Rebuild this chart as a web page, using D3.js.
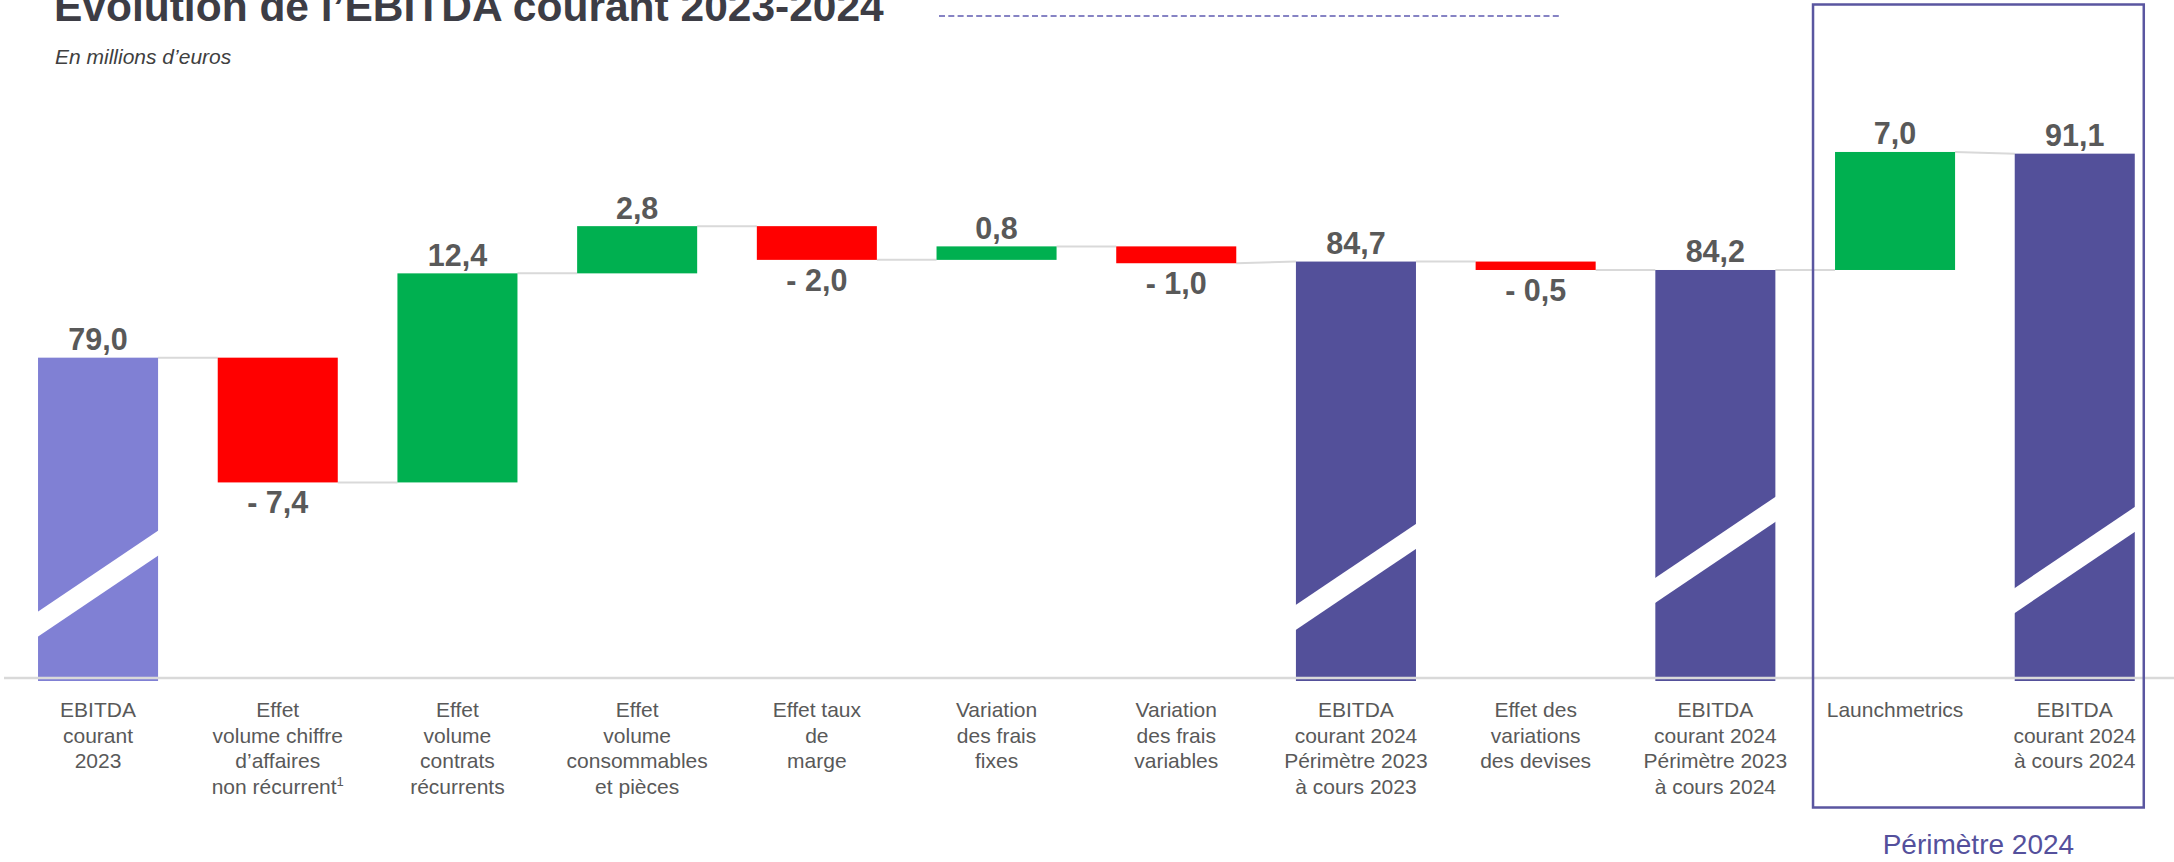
<!DOCTYPE html>
<html>
<head>
<meta charset="utf-8">
<script src="https://cdn.jsdelivr.net/npm/d3@7"></script>
<style>
  body { margin: 0; background: #fff; }
  svg { display: block; font-family: "Liberation Sans", Arial, sans-serif; }
</style>
</head>
<body>
<svg id="chart" width="2174" height="862"></svg>
<script>
'use strict';

// categories (one entry per bar, one string per line)
var categories = [
  ["EBITDA", "courant", "2023"],
  ["Effet", "volume chiffre", "d\u2019affaires", "non r\u00e9current|1"],
  ["Effet", "volume", "contrats", "r\u00e9currents"],
  ["Effet", "volume", "consommables", "et pi\u00e8ces"],
  ["Effet taux", "de", "marge"],
  ["Variation", "des frais", "fixes"],
  ["Variation", "des frais", "variables"],
  ["EBITDA", "courant 2024", "P\u00e9rim\u00e8tre 2023", "\u00e0 cours 2023"],
  ["Effet des", "variations", "des devises"],
  ["EBITDA", "courant 2024", "P\u00e9rim\u00e8tre 2023", "\u00e0 cours 2024"],
  ["Launchmetrics"],
  ["EBITDA", "courant 2024", "\u00e0 cours 2024"]
];

// values in millions d'euros
var values = [79.0, -7.4, 12.4, 2.8, -2.0, 0.8, -1.0, 84.7, -0.5, 84.2, 7.0, 91.1];

// "start" = first total, "total" = subtotal, "delta" = variation
var kinds = ["start", "delta", "delta", "delta", "delta", "delta", "delta",
             "total", "delta", "total", "delta", "total"];

// where the axis break is drawn on the total bars (in value units)
var breakAt = [65.6, null, null, null, null, null, null, 66.0, null, 67.6, null, 67.0];

var axisMin = 60, axisMax = 100;

var svg = d3.select("#chart");

var x = d3.scaleBand()
    .domain(d3.range(values.length))
    .range([8.2, 2164.6])
    .paddingInner(0.332)
    .paddingOuter(0.166);

var y = d3.scaleLinear()
    .domain([axisMin, axisMax])
    .range([678, 678 - (axisMax - axisMin) * 16.86]);

var colors = { start: "#8080d4", total: "#53509a", up: "#00b050", down: "#ff0000" };

// build waterfall segments
var running = 0;
var bars = values.map(function (v, i) {
  var b = { i: i, v: v, kind: kinds[i] };
  if (kinds[i] === "delta") {
    b.from = running;
    b.to = running + v;
    b.fill = v >= 0 ? colors.up : colors.down;
  } else {
    b.from = axisMin;
    b.to = v;
    b.fill = kinds[i] === "start" ? colors.start : colors.total;
  }
  running = b.to;
  return b;
});

function fmt(v) {
  var s = Math.abs(v).toFixed(1).replace(".", ",");
  return v < 0 ? "- " + s : s;
}

// title (cut at the top edge, as in the source slide)
svg.append("text")
    .attr("x", 54)
    .attr("y", 20.5)
    .attr("font-size", 42.5)
    .attr("font-weight", "bold")
    .attr("fill", "#3d3d45")
    .text("Evolution de l\u2019EBITDA courant 2023-2024");

svg.append("line")
    .attr("x1", 939).attr("x2", 1560)
    .attr("y1", 16).attr("y2", 16)
    .attr("stroke", "#8683c4")
    .attr("stroke-width", 2)
    .attr("stroke-dasharray", "6,3.3");

svg.append("text")
    .attr("x", 55)
    .attr("y", 64)
    .attr("font-size", 21)
    .attr("font-style", "italic")
    .attr("fill", "#404040")
    .text("En millions d\u2019euros");

// connectors
var conn = [];
for (var i = 0; i < bars.length - 1; i++) {
  var nextStart = bars[i + 1].kind === "delta" ? bars[i + 1].from : bars[i + 1].to;
  conn.push({ x1: x(i) + x.bandwidth(), y1: bars[i].to, x2: x(i + 1), y2: nextStart });
}
svg.append("g").selectAll("line")
    .data(conn)
    .enter().append("line")
      .attr("x1", function (d) { return d.x1; })
      .attr("x2", function (d) { return d.x2; })
      .attr("y1", function (d) { return y(d.y1); })
      .attr("y2", function (d) { return y(d.y2); })
      .attr("stroke", "#d9d9d9")
      .attr("stroke-width", 2);

// bars
svg.append("g").selectAll("rect")
    .data(bars)
    .enter().append("rect")
      .attr("x", function (d) { return x(d.i); })
      .attr("width", x.bandwidth())
      .attr("y", function (d) { return y(Math.max(d.from, d.to)); })
      .attr("height", function (d) {
        var h = Math.abs(y(d.from) - y(d.to));
        return d.kind === "delta" ? h : h + 3;
      })
      .attr("fill", function (d) { return d.fill; });

// axis break stripes on the totals
var slope = 81 / 120, thick = 25;
svg.append("g").selectAll("polygon")
    .data(bars.filter(function (d) { return breakAt[d.i] != null; }))
    .enter().append("polygon")
      .attr("fill", "#fff")
      .attr("points", function (d) {
        var x0 = x(d.i) - 1, x1 = x(d.i) + x.bandwidth() + 1;
        var yc = y(breakAt[d.i]), half = (x1 - x0) / 2 * slope;
        return [[x0, yc + half - thick / 2], [x1, yc - half - thick / 2],
                [x1, yc - half + thick / 2], [x0, yc + half + thick / 2]].join(" ");
      });

// baseline
svg.append("line")
    .attr("x1", 4).attr("x2", 2174)
    .attr("y1", y(axisMin)).attr("y2", y(axisMin))
    .attr("stroke", "#d9d9d9")
    .attr("stroke-width", 2.5);

// value labels
svg.append("g").selectAll("text")
    .data(bars)
    .enter().append("text")
      .attr("x", function (d) { return x(d.i) + x.bandwidth() / 2; })
      .attr("y", function (d) {
        return d.v < 0 ? y(d.to) + 31 : y(d.to) - 7.5;
      })
      .attr("text-anchor", "middle")
      .attr("font-size", 30.5)
      .attr("font-weight", "bold")
      .attr("fill", "#595959")
      .text(function (d) { return fmt(d.v); });

// category labels
var lab = svg.append("g").selectAll("text")
    .data(categories)
    .enter().append("text")
      .attr("x", function (d, i) { return x(i) + x.bandwidth() / 2; })
      .attr("y", 717)
      .attr("text-anchor", "middle")
      .attr("font-size", 21)
      .attr("fill", "#595959");

lab.each(function (lines) {
  var t = d3.select(this);
  lines.forEach(function (line, k) {
    var parts = line.split("|");
    t.append("tspan")
        .attr("x", t.attr("x"))
        .attr("dy", k === 0 ? 0 : 25.6)
        .text(parts[0]);
    if (parts[1]) {
      t.append("tspan")
          .attr("font-size", 13)
          .attr("dy", -8)
          .text(parts[1]);
    }
  });
});

// "Périmètre 2024" frame
var bx0 = x(10) - 22, bx1 = x(11) + x.bandwidth() + 9;
svg.append("rect")
    .attr("x", bx0)
    .attr("y", 4.5)
    .attr("width", bx1 - bx0)
    .attr("height", 803)
    .attr("fill", "none")
    .attr("stroke", "#5a56a0")
    .attr("stroke-width", 2.5);

svg.append("text")
    .attr("x", (bx0 + bx1) / 2)
    .attr("y", 854)
    .attr("text-anchor", "middle")
    .attr("font-size", 28)
    .attr("fill", "#54509c")
    .text("P\u00e9rim\u00e8tre 2024");
</script>
</body>
</html>
